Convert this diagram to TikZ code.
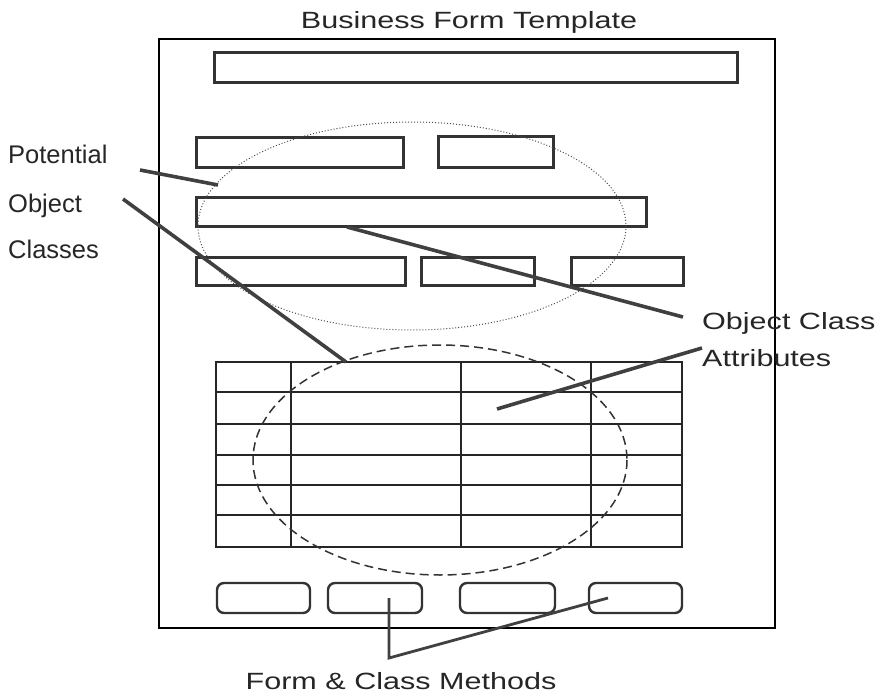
\documentclass[tikz,border=0pt]{standalone}
\usepackage{fontspec}
\setmainfont{Liberation Sans}
\newfontfamily\widefont[FakeStretch=1.3]{Liberation Sans}
\begin{document}
\begin{tikzpicture}[x=1pt, y=-1pt,
field/.style={draw=black!80, line width=3pt},
button/.style={draw=black!80, line width=2.4pt, rounded corners=7pt},
rule/.style={draw=black!85, line width=2.6pt},
pointer/.style={draw=black!75, line width=3.6pt},
tag/.style={anchor=base west, inner sep=0pt, text=black!85, font=\fontsize{25.5}{30}\selectfont},
caption/.style={inner sep=0pt, text=black!85, font=\widefont\fontsize{23.5}{28}\selectfont}]
\useasboundingbox (0,0) rectangle (881,693);

% page and heading
\node[caption, anchor=base] (title) at (469,29) {Business Form Template};
\draw[line width=1.5pt] (159,39) rectangle (775,628);

% header fields
\draw[field] (214,53) rectangle (737,83);
\draw[field] (196,137) rectangle (403,167);
\draw[field] (438,136) rectangle (553,167);
\draw[field] (196,197) rectangle (646,226);
\draw[field] (196,257) rectangle (405,285);
\draw[field] (421,257) rectangle (534,285);
\draw[field] (571,257) rectangle (683,285);

% line item table
\draw[rule] (216,362) rectangle (682,547);
\foreach \x in {291,461,591}
    \draw[rule] (\x,362) -- (\x,547);
\foreach \y in {392,424,455,485,515}
    \draw[rule] (216,\y) -- (682,\y);

% buttons
\foreach \x/\w in {217/93, 328/94, 460/95, 589/93}
    \draw[button] (\x,583) rectangle ++(\w,30);

% groupings
\draw[black!70, line width=1pt, dash pattern=on 1pt off 2pt]
    (412,226) ellipse [x radius=214, y radius=104];
\draw[black!80, line width=1.5pt, dash pattern=on 9pt off 5pt]
    (440,460) ellipse [x radius=187, y radius=115];

% labels
\node[tag] (potential) at (8,163) {Potential};
\node[tag] (object) at (8,212) {Object};
\node[tag] (classes) at (8,258) {Classes};
\node[caption, anchor=base west] (attrA) at (702,329) {Object Class};
\node[caption, anchor=base west] (attrB) at (702,366) {Attributes};
\node[caption, anchor=base] (methods) at (401,689) {Form \& Class Methods};

% pointer ends
\coordinate (potStart) at (140,170);
\coordinate (potEnd) at (218,185);
\coordinate (objStart) at (123,199);
\coordinate (objEnd) at (346,362);
\coordinate (attrEnd1) at (347,227);
\coordinate (attrStart1) at (683,317);
\coordinate (attrEnd2) at (497,409);
\coordinate (attrStart2) at (702,348);
\coordinate (methA) at (389,598);
\coordinate (methKnee) at (389,658);
\coordinate (methB) at (608,598);

% pointers
\draw[pointer] (potStart) -- (potEnd);
\draw[pointer] (objStart) -- (objEnd);
\draw[pointer] (attrStart1) -- (attrEnd1);
\draw[pointer] (attrStart2) -- (attrEnd2);
\draw[pointer, line width=2.8pt] (methA) -- (methKnee) -- (methB);
\end{tikzpicture}
\end{document}
